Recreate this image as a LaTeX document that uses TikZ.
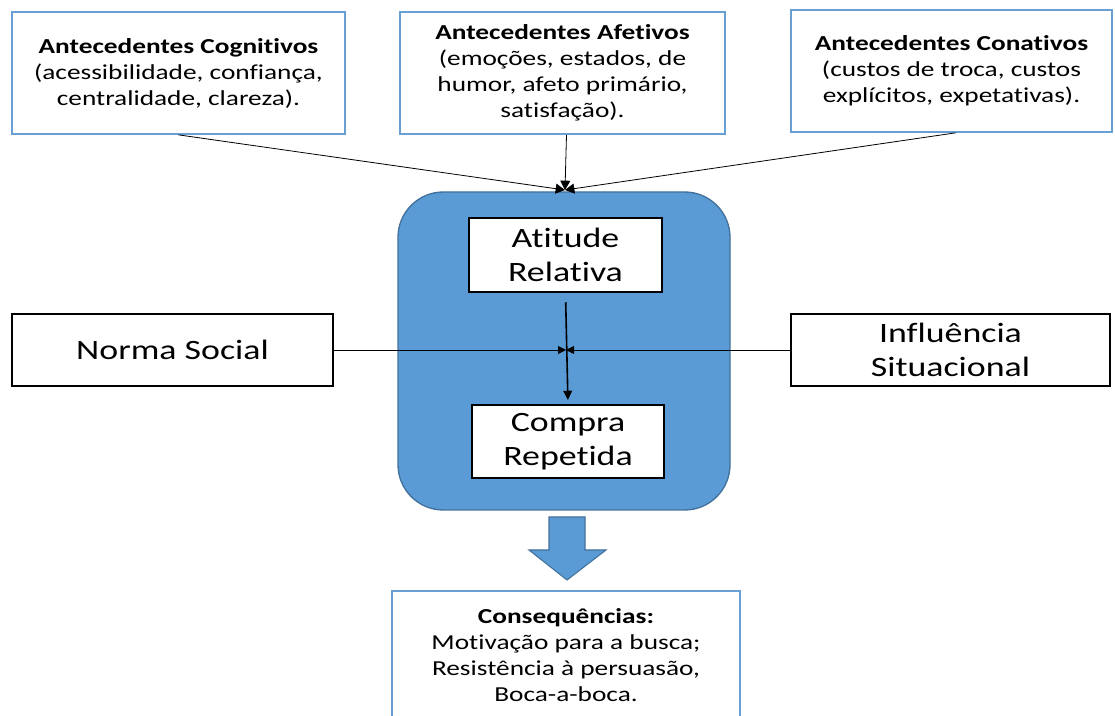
\documentclass[tikz,border=0pt]{standalone}
\usepackage{fontspec}
\setmainfont[FakeStretch=1.28,Ligatures={CommonOff,ContextualOff}]{Carlito}
\usetikzlibrary{arrows.meta,positioning,calc}

\definecolor{boxline}{RGB}{104,160,214}
\definecolor{bigfill}{RGB}{91,155,213}
\definecolor{bigline}{RGB}{65,113,156}

\begin{document}
\begin{tikzpicture}[x=0.75pt,y=-0.75pt,
    antebox/.style={draw=boxline,line width=1.3pt,fill=white,align=center,
      inner sep=0pt,font=\fontsize{16}{19.5}\selectfont},
    stepbox/.style={draw=black,line width=1.4pt,fill=white,align=center,
      inner sep=0pt,font=\fontsize{21}{25.5}\selectfont},
    thinarrow/.style={-{Triangle[length=7pt,width=7.5pt]},line width=0.6pt},
    midarrow/.style={-{Triangle[length=6pt,width=6pt]},line width=0.7pt}]
  \useasboundingbox (0,0) rectangle (1115,716);

  % antecedentes
  \node[antebox,minimum width=249.75pt,minimum height=91.5pt] (cog) at (178.5,73)
    {\textbf{Antecedentes Cognitivos}\\(acessibilidade, confiança,\\centralidade, clareza).};
  \node[antebox,minimum width=243.75pt,minimum height=91.5pt] (afe) at (562.5,73)
    {\textbf{Antecedentes Afetivos}\\(emoções, estados, de\\humor, afeto primário,\\satisfação).};
  \node[antebox,minimum width=240.75pt,minimum height=91.5pt] (con) at (951.5,71)
    {\textbf{Antecedentes Conativos}\\(custos de troca, custos\\explícitos, expetativas).};

  % bloco central
  \node[draw=bigline,line width=1pt,fill=bigfill,rounded corners=34pt,
    minimum width=249pt,minimum height=238.5pt] (big) at (564,351) {};
  \node[stepbox,minimum width=144.75pt,minimum height=55.5pt] (atit) at (565.5,255)
    {Atitude\\Relativa};
  \node[stepbox,minimum width=144pt,minimum height=54.75pt] (comp) at (568,441.5)
    {Compra\\Repetida};

  \node[stepbox,line width=1.1pt,minimum width=240.75pt,minimum height=54pt] (norma) at (172.5,350)
    {Norma Social};
  \node[stepbox,line width=1.1pt,minimum width=239.25pt,minimum height=54pt] (infl) at (950.5,350)
    {Influência\\Situacional};

  \coordinate (top) at (565,190);
  \coordinate (mid) at (566,350);

  \draw[thinarrow] (cog.south) -- (top);
  \draw[thinarrow] ([xshift=3pt]afe.south) -- (top);
  \draw[thinarrow] ([xshift=3pt]con.south) -- (top);

  \draw[midarrow] (norma.east) -- (mid);
  \draw[midarrow] (infl.west) -- (mid);
  \draw[-{Triangle[length=7pt,width=6.5pt]},line width=1.2pt,
    shorten <=7pt,shorten >=3pt] (atit.south) -- (comp.north);

  % seta larga
  \draw[draw=bigline,line width=0.8pt,fill=bigfill]
    (549,517) -- (585,517) -- (585,550) -- (606,550) -- (567,580)
    -- (529,550) -- (549,550) -- cycle;

  \node[antebox,anchor=north,minimum width=261pt,minimum height=96pt] (cons) at (566,590)
    {\textbf{Consequências:}\\Motivação para a busca;\\Resistência à persuasão,\\Boca-a-boca.};
\end{tikzpicture}
\end{document}
